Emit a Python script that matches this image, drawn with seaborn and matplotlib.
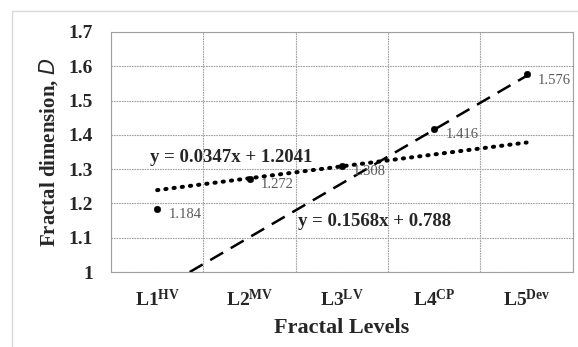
import matplotlib
matplotlib.use("Agg")
import matplotlib.pyplot as plt
import seaborn as sns
import numpy as np
import pandas as pd

categories = ["L1", "L2", "L3", "L4", "L5"]
superscripts = ["HV", "MV", "LV", "CP", "Dev"]
values = [1.184, 1.272, 1.308, 1.416, 1.576]
lin_slope, lin_icpt = 0.0347, 1.2041
dash_slope, dash_icpt = 0.1568, 0.788

sns.set_theme(style="white")
plt.rcParams["font.family"] = ["Liberation Serif", "DejaVu Serif"]
plt.rcParams["mathtext.default"] = "regular"

fig = plt.figure(figsize=(5.78, 3.47), dpi=100)
ax = fig.add_axes([0.192, 0.216, 0.799, 0.692])

x = np.arange(1, len(values) + 1)
df = pd.DataFrame({"x": x, "D": values})

# trend lines
xl = np.array([1.0, 5.0])
dfl = pd.DataFrame({"x": xl, "y": lin_slope * xl + lin_icpt})
x0 = (1.0 - dash_icpt) / dash_slope
xd = np.array([x0, 5.0])
dfd = pd.DataFrame({"x": xd, "y": dash_slope * xd + dash_icpt})
sns.lineplot(data=dfl, x="x", y="y", ax=ax, color="black", lw=2.9,
             linestyle=(0, (0.3, 1.75)))
ax.lines[-1].set_dash_capstyle("round")
sns.lineplot(data=dfd, x="x", y="y", ax=ax, color="black", lw=1.8,
             linestyle=(0, (6, 3.5)))

sns.scatterplot(data=df, x="x", y="D", ax=ax, color="black", s=22,
                edgecolor="black", zorder=5)

for xi, v in zip(x, values):
    ax.annotate(f"{v:.3f}", (xi, v), xytext=(8, -4), textcoords="offset points",
                fontsize=10.5, color="#595959", va="center", ha="left")

ax.text(1.80, 1.335, "y = 0.0347x + 1.2041", fontsize=13.5, fontweight="bold",
        ha="center", va="center")
ax.text(3.35, 1.146, "y = 0.1568x + 0.788", fontsize=13.5, fontweight="bold",
        ha="center", va="center")

ax.set_xlim(0.5, 5.5)
ax.set_ylim(1.0, 1.7)
ax.set_xticks(x)
ax.set_xticklabels([f"{c}$^{{{s}}}$" for c, s in zip(categories, superscripts)],
                   fontsize=14, fontweight="bold")
yt = [1.0, 1.1, 1.2, 1.3, 1.4, 1.5, 1.6, 1.7]
ax.set_yticks(yt)
ax.set_yticklabels(["1" if t == 1.0 else f"{t:.1f}" for t in yt],
                   fontsize=14, fontweight="bold")
ax.tick_params(axis="y", length=0, pad=13)
ax.tick_params(axis="x", length=0, pad=12)

ax.set_xticks(np.arange(0.5, 6.0, 1.0), minor=True)
ax.grid(False)
ax.grid(which="minor", axis="x", color="#a0a0a0", lw=0.8, linestyle=(0, (1.5, 0.8)))
ax.grid(which="major", axis="y", color="#a0a0a0", lw=0.8, linestyle=(0, (1.5, 0.8)))
ax.tick_params(which="minor", length=0)
for s in ax.spines.values():
    s.set_color("#a0a0a0")
    s.set_linewidth(0.8)

ax.set_xlabel("Fractal Levels", fontsize=16, fontweight="bold", labelpad=6)
ax.set_ylabel("Fractal dimension, $\\mathit{D}$", fontsize=15, fontweight="bold", labelpad=6)

# outer chart border
fig.patches.append(plt.Rectangle((12 / 578, -0.01), 1.1, 1 - 11 / 347 + 0.01,
                                 transform=fig.transFigure, fill=False,
                                 edgecolor="#d9d9d9", lw=1.0))

fig.savefig("out.png", dpi=100)
